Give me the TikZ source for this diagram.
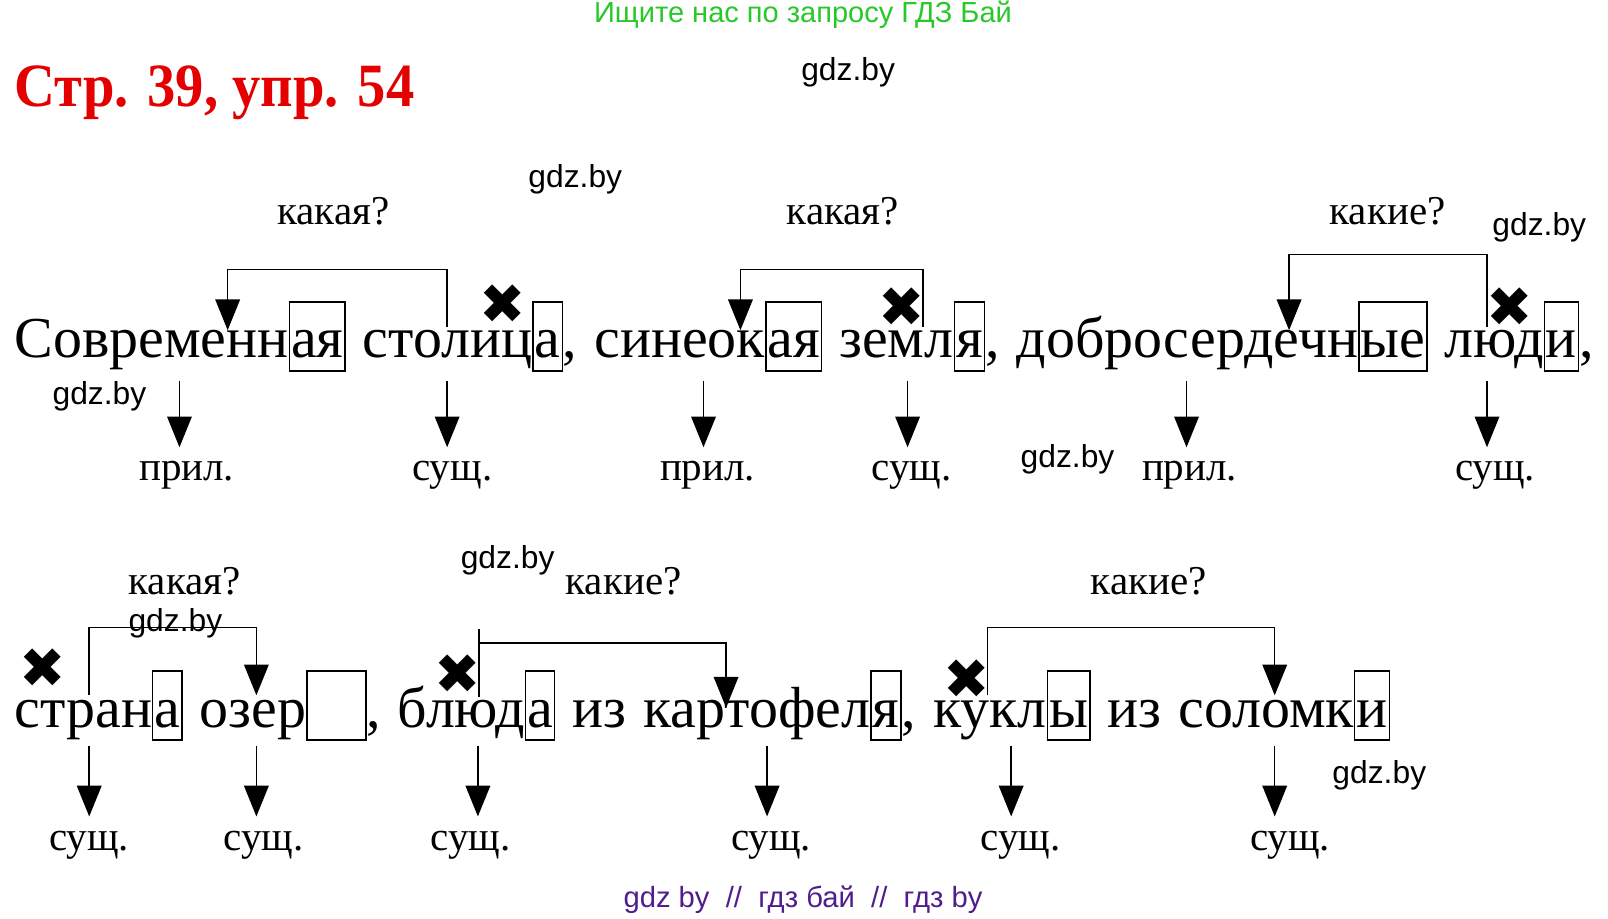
\documentclass[tikz,border=0pt]{standalone}
\usepackage{fontspec}
\setmainfont{Liberation Serif}
\newfontfamily\wmfont{Liberation Sans}
\newfontfamily\symfont{DejaVu Sans}
\usetikzlibrary{arrows.meta}
\definecolor{titlered}{RGB}{228,0,0}
\definecolor{adgreen}{RGB}{40,200,40}
\definecolor{adpurple}{RGB}{80,30,140}
\newcommand{\finbox}[1]{{\setlength{\fboxsep}{0pt}\setlength{\fboxrule}{1.4pt}\fbox{\kern1pt\rule[-12pt]{0pt}{66pt}#1\kern1pt}}}
\tikzset{
  row/.style={anchor=base west, inner sep=0pt, font=\fontsize{56.5}{60}\selectfont,
    execute at begin node={\spaceskip=16.6pt\relax}},
  ask/.style={anchor=base, inner sep=0pt, font=\fontsize{40}{44}\selectfont},
  partlbl/.style={anchor=base, inner sep=0pt, outer sep=14pt, font=\fontsize{40}{44}\selectfont},
  wm/.style={inner sep=0pt, font=\wmfont\fontsize{31}{34}\selectfont},
  cross/.style={inner sep=0pt, font=\symfont\fontsize{54}{58}\selectfont},
  link/.style={line width=1.5pt, -{Triangle[width=24pt,length=30pt]}},
  down/.style={link}
}
\begin{document}
\begin{tikzpicture}[x=1pt, y=-1pt]
\useasboundingbox (0,0) rectangle (1568,896);
\node[inner sep=0pt, text=adgreen, font=\wmfont\fontsize{28.3}{30}\selectfont] (ad) at (783,14) {Ищите нас по запросу ГДЗ Бай};
\node[anchor=base west, inner sep=0pt, text=titlered, font=\bfseries\fontsize{60}{64}\selectfont] (title) at (14,104) {\scalebox{0.92}[1]{Стр. 39, упр. 54}};

\node[row] (r1) at (14,349) {Современн\finbox{ая} столиц\finbox{а}, синеок\finbox{ая} земл\finbox{я}, добросердечн\finbox{ые} люд\finbox{и},};
\node[row] (r2) at (14,709) {стран\finbox{а} озер\finbox{\hspace*{54pt}}, блюд\finbox{а} из картофел\finbox{я}, кукл\finbox{ы} из соломк\finbox{и}};

\node[ask] (q1) at (325,219) {какая?};
\node[ask] (q2) at (822,219) {какая?};
\node[ask] (q3) at (1353,219) {какие?};
\node[ask] (q4) at (180,580) {какая?};
\node[ask] (q5) at (608,580) {какие?};
\node[ask] (q6) at (1120,580) {какие?};

\node[partlbl] (p1) at (182,469) {прил.};
\node[partlbl] (p2) at (441,469) {сущ.};
\node[partlbl] (p3) at (690,469) {прил.};
\node[partlbl] (p4) at (889,469) {сущ.};
\node[partlbl] (p5) at (1160,469) {прил.};
\node[partlbl] (p6) at (1458,469) {сущ.};
\node[partlbl] (p7) at (87,829) {сущ.};
\node[partlbl] (p8) at (257,829) {сущ.};
\node[partlbl] (p9) at (459,829) {сущ.};
\node[partlbl] (p10) at (752,829) {сущ.};
\node[partlbl] (p11) at (995,829) {сущ.};
\node[partlbl] (p12) at (1258,829) {сущ.};

\node[cross] (x1) at (490,297) {✖};
\node[cross] (x2) at (879,300) {✖};
\node[cross] (x3) at (1472,300) {✖};
\node[cross] (x4) at (42,652) {✖};
\node[cross] (x5) at (446,657) {✖};
\node[cross] (x6) at (943,662) {✖};

\node[wm] (w1) at (827,70) {gdz.by};
\node[wm] (w2) at (561,175) {gdz.by};
\node[wm] (w3) at (97,386) {gdz.by};
\node[wm] (w4) at (1501,222) {gdz.by};
\node[wm] (w5) at (1041,448) {gdz.by};
\node[wm] (w6) at (495,546) {gdz.by};
\node[wm] (w7) at (171,608) {gdz.by};
\node[wm] (w8) at (1345,756) {gdz.by};
\node[inner sep=0pt, text=adpurple, font=\wmfont\fontsize{28.5}{30}\selectfont] (foot) at (783,877) {gdz by\ \ //\ \ гдз бай\ \ //\ \ гдз by};

\coordinate (n1) at (436,319);
\coordinate (a1) at (222,322);
\coordinate (n2) at (900,319);
\coordinate (a2) at (722,322);
\coordinate (n3) at (1450,319);
\coordinate (a3) at (1257,322);
\coordinate (n4) at (87,678);
\coordinate (a4) at (250,678);
\coordinate (n5) at (467,680);
\coordinate (k5) at (467,627);
\coordinate (a5) at (708,690);
\coordinate (n6) at (963,678);
\coordinate (a6) at (1243,678);

\draw[link] (n1) -- ++(0,-56) -| (a1);
\draw[link] (n2) -- ++(0,-56) -| (a2);
\draw[link] (n3) -- ++(0,-71) -| (a3);
\draw[link] (n4) -- ++(0,-66) -| (a4);
\draw[line width=1.5pt] (n5) -- ++(0,-67);
\draw[link] (k5) -| (a5);
\draw[link] (n6) -- ++(0,-66) -| (a6);

\coordinate (t1) at (175,372);
\coordinate (t2) at (436,372);
\coordinate (t3) at (686,372);
\coordinate (t4) at (885,372);
\coordinate (t5) at (1157,372);
\coordinate (t6) at (1450,372);
\coordinate (t7) at (87,727);
\coordinate (t8) at (250,727);
\coordinate (t9) at (466,727);
\coordinate (t10) at (748,727);
\coordinate (t11) at (986,727);
\coordinate (t12) at (1243,727);

\foreach \i in {1,...,12}
  \draw[down] (t\i) -- (t\i |- p\i.north);
\end{tikzpicture}
\end{document}
